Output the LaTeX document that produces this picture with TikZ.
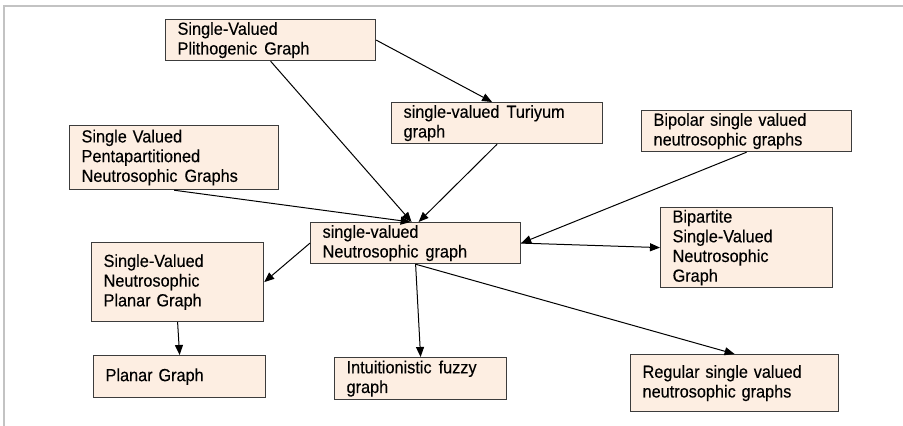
\documentclass[tikz,border=0pt]{standalone}
\usepackage{fontspec}
\setmainfont{Liberation Sans}[FakeStretch=0.93,FakeBold=0.3]
\usetikzlibrary{arrows.meta}
\definecolor{boxfill}{RGB}{253,238,226}
\definecolor{boxline}{RGB}{60,60,60}
\definecolor{framegray}{RGB}{195,195,195}
\newcommand{\wsp}{\hspace{7pt}}
\begin{document}
\begin{tikzpicture}[x=1pt,y=-1pt,
  bx/.style={draw=boxline, fill=boxfill, line width=1.2pt, anchor=north west,
    inner xsep=12pt, inner ysep=0pt, align=left,
    font=\fontsize{17.5}{19.7}\selectfont},
  conn/.style={draw=black, line width=1pt, -{Triangle[length=10pt,width=8pt]}}]
\useasboundingbox (0,0) rectangle (903,426);
\draw[framegray, line width=1.5pt] (4,426) -- (4,6) -- (903,6);

\node[bx, minimum width=210pt, minimum height=41pt, text width=186pt] (p) at (165,19)
  {Single-Valued\\Plithogenic\wsp Graph};
\node[bx, minimum width=211pt, minimum height=41pt, text width=187pt] (t) at (391,102)
  {single-valued\wsp Turiyum\\graph};
\node[bx, minimum width=209pt, minimum height=64pt, text width=185pt] (q) at (69,125)
  {Single Valued\\Pentapartitioned\\Neutrosophic\wsp Graphs};
\node[bx, minimum width=210pt, minimum height=41pt, text width=186pt] (b) at (641,110)
  {Bipolar single valued\\neutrosophic graphs};
\node[bx, minimum width=210pt, minimum height=41pt, text width=186pt] (c) at (310,222)
  {single-valued\\Neutrosophic\wsp graph};
\node[bx, minimum width=172pt, minimum height=80pt, text width=148pt] (d) at (660,207)
  {Bipartite\\Single-Valued\\Neutrosophic\\Graph};
\node[bx, minimum width=172pt, minimum height=79pt, text width=148pt] (s) at (91,242)
  {Single-Valued\\Neutrosophic\\Planar Graph};
\node[bx, minimum width=172pt, minimum height=42pt, text width=148pt] (g) at (93,355)
  {Planar Graph};
\node[bx, minimum width=172pt, minimum height=42pt, text width=148pt] (i) at (334,357)
  {Intuitionistic\wsp fuzzy\\graph};
\node[bx, minimum width=208pt, minimum height=57pt, text width=184pt] (r) at (630,354)
  {Regular single valued\\neutrosophic graphs};

\draw[conn] (p.south) -- ([xshift=-4pt]c.north);
\draw[conn] (p.east) -- ([xshift=-5pt]t.north);
\draw[conn] (t.south) -- ([xshift=3pt]c.north);
\draw[conn] (q.south) -- ([xshift=-5pt]c.north);
\draw[conn] (b.south) -- (c.east);
\draw[conn] (c.east) -- (d.west);
\draw[conn] (c.west) -- (s.east);
\draw[conn] (s.south) -- (g.north);
\draw[conn] (c.south) -- (i.north);
\draw[conn] (c.south) -- (r.north);
\end{tikzpicture}
\end{document}
